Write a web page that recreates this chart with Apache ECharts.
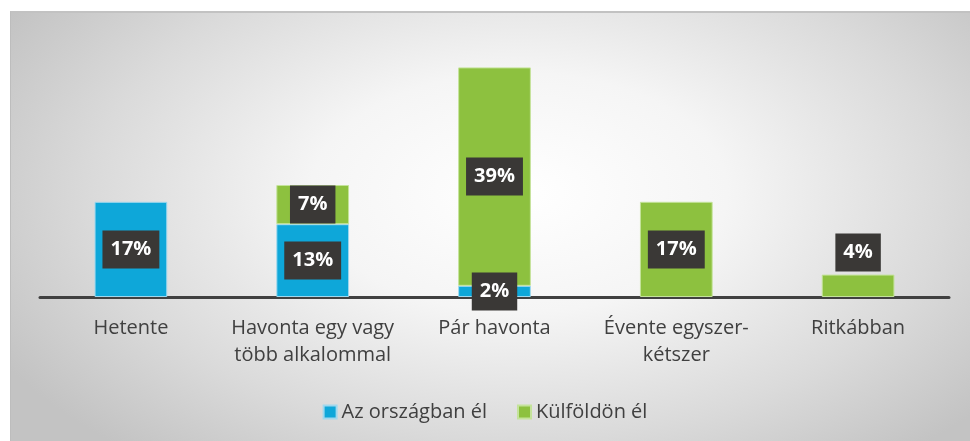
<!DOCTYPE html>
<html>
<head>
<meta charset="utf-8">
<script src="https://cdn.jsdelivr.net/npm/echarts@6/dist/echarts.min.js"></script>
<style>
html,body{margin:0;padding:0;background:#fff;width:970px;height:441px;overflow:hidden;}
#bg{position:absolute;left:10px;top:11px;width:960px;height:430px;box-sizing:border-box;
border-top:2px solid #c2c2c2;border-left:1px solid #bdbdbd;
background:radial-gradient(ellipse 62% 80% at 53% 42%, #ffffff 0%, #f5f5f5 35%, #dadada 72%, #c3c3c3 100%);}
#chart{position:absolute;left:0;top:0;width:970px;height:441px;}
</style>
</head>
<body>
<div id="bg"></div>
<div id="chart"></div>
<script>
var categories = ['Hetente', 'Havonta egy vagy\ntöbb alkalommal', 'Pár havonta', 'Évente egyszer-\nkétszer', 'Ritkábban'];
var seriesNames = ['Az országban él', 'Külföldön él'];
var domestic = [17, 13, 2, 0, 0];
var abroad = [0, 7, 39, 17, 4];
var labelOnTop = [false, false, false, false, true];

var colors = ['#0ea7d9', '#8dc13f'];
var borders = ['#9fd8ee', '#c4e39a'];

function buildData(vals) {
  return vals.map(function (v, i) {
    if (v === 0) return { value: '-' };
    var item = { value: v };
    if (labelOnTop[i]) item.label = { position: 'top', distance: 3 };
    return item;
  });
}

var labelStyle = {
  show: true,
  position: 'inside',
  formatter: '{c}%',
  color: '#ffffff',
  fontFamily: 'Open Sans',
  fontWeight: 'bold',
  fontSize: 20,
  lineHeight: 22,
  backgroundColor: '#3a3836',
  padding: [8, 8, 8, 8]
};

var chart = echarts.init(document.getElementById('chart'), null, { renderer: 'canvas' });
chart.setOption({
  backgroundColor: 'transparent',
  animation: false,
  textStyle: { fontFamily: 'Open Sans' },
  grid: { left: 40, right: 21, top: 45, bottom: 144, containLabel: false },
  legend: {
    top: 397,
    left: 'center',
    itemWidth: 13,
    itemHeight: 13,
    itemGap: 30,
    itemTextGap: 6,
    icon: 'rect',
    textStyle: { fontSize: 20, color: '#404040', fontFamily: 'Open Sans' },
    data: seriesNames
  },
  xAxis: {
    type: 'category',
    data: categories,
    axisLine: { lineStyle: { color: '#404040', width: 3 } },
    axisTick: { show: false },
    axisLabel: { fontSize: 20, color: '#404040', lineHeight: 27, margin: 18, fontFamily: 'Open Sans', interval: 0 }
  },
  yAxis: {
    type: 'value',
    min: 0,
    max: 45,
    show: false,
    splitLine: { show: false }
  },
  series: [
    {
      name: seriesNames[0],
      type: 'bar',
      stack: 'total',
      barWidth: '40%',
      itemStyle: { color: colors[0], borderColor: borders[0], borderWidth: 1 },
      label: labelStyle,
      data: buildData(domestic),
      z: 2
    },
    {
      name: seriesNames[1],
      type: 'bar',
      stack: 'total',
      barWidth: '40%',
      itemStyle: { color: colors[1], borderColor: borders[1], borderWidth: 1 },
      label: labelStyle,
      data: buildData(abroad),
      z: 2
    }
  ]
});
</script>
</body>
</html>
